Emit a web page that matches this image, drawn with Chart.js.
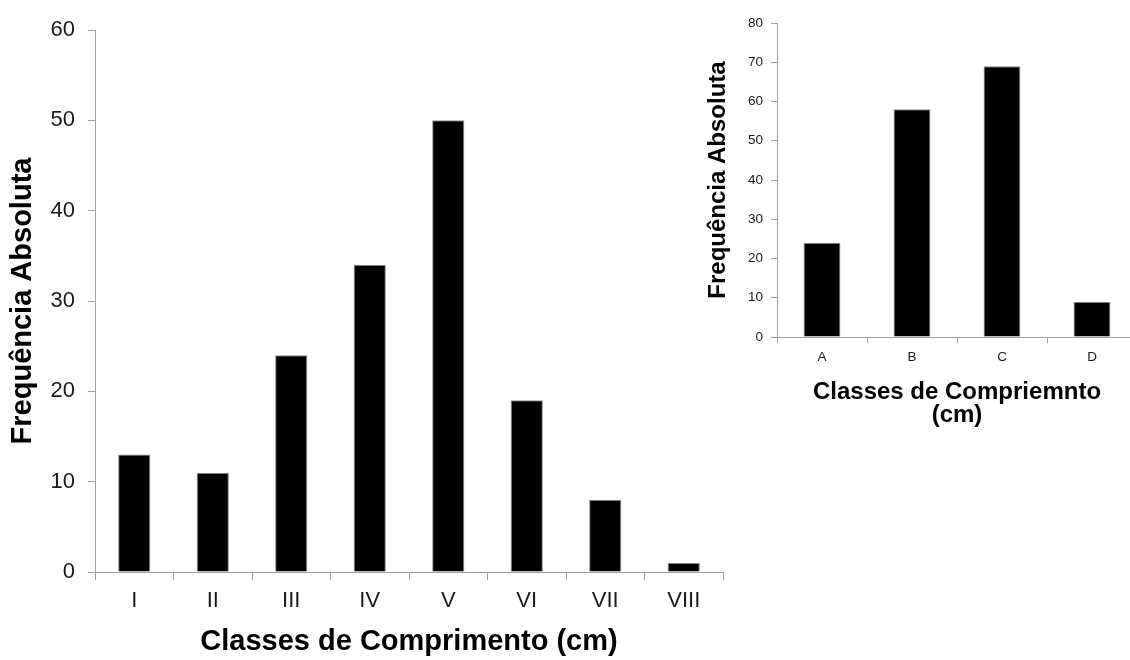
<!DOCTYPE html>
<html>
<head>
<meta charset="utf-8">
<script src="https://cdn.jsdelivr.net/npm/chart.js@4/dist/chart.umd.min.js"></script>
<style>
    html, body { margin: 0; padding: 0; background: #fff; overflow: hidden; }
    #page { position: relative; width: 1130px; height: 660px; overflow: hidden; }
    #leftChart { position: absolute; left: 0; top: 0; }
    #rightChart { position: absolute; left: 700px; top: 0; }
</style>
</head>
<body>
<div id="page">
    <canvas id="leftChart" width="750" height="660"></canvas>
    <canvas id="rightChart" width="460" height="440"></canvas>
</div>
<script>
// DATA

const leftClasses = ['I', 'II', 'III', 'IV', 'V', 'VI', 'VII', 'VIII'];
const leftFreq = [13, 11, 24, 34, 50, 19, 8, 1];

const rightClasses = ['A', 'B', 'C', 'D'];
const rightFreq = [24, 58, 69, 9];

const axisGray = '#a0a0a0';
const textColor = '#1a1a1a';
const fontFamily = "'Liberation Sans', Arial, sans-serif";

// BUILDS ONE BAR CHART

function makeBarChart(canvasId, labels, values, cfg) {
    const ctx = document.getElementById(canvasId).getContext('2d');

    return new Chart(ctx, {
        type: 'bar',
        data: {
            labels: labels,
            datasets: [{
                data: values,
                backgroundColor: '#000',
                borderColor: '#8a8a8a',
                borderWidth: 1,
                categoryPercentage: 1,
                barPercentage: 0.41
            }]
        },
        options: {
            responsive: false,
            animation: false,
            events: [],
            layout: { padding: { top: cfg.top, right: cfg.right, left: 0, bottom: 0 } },
            plugins: { legend: { display: false }, tooltip: { enabled: false } },
            scales: {
                x: {
                    grid: { offset: true, drawOnChartArea: false, tickLength: cfg.xTick, color: axisGray },
                    border: { color: axisGray, width: 1 },
                    ticks: { color: textColor, padding: cfg.xPad, font: { family: fontFamily, size: cfg.tickSize } },
                    title: {
                        display: true,
                        text: cfg.xTitle,
                        color: '#000',
                        padding: { top: 0, bottom: cfg.xTitlePad },
                        font: { family: fontFamily, size: cfg.titleSize, weight: 'bold', lineHeight: cfg.titleLine }
                    },
                    afterFit: (scale) => { scale.height = cfg.xHeight; }
                },
                y: {
                    min: 0,
                    max: cfg.yMax,
                    grid: { drawOnChartArea: false, tickLength: cfg.yTick, color: axisGray },
                    border: { color: axisGray, width: 1 },
                    ticks: { stepSize: 10, color: textColor, padding: cfg.yPad, font: { family: fontFamily, size: cfg.tickSize } },
                    title: {
                        display: true,
                        text: 'Frequência Absoluta',
                        color: '#000',
                        padding: { top: cfg.yTitlePad, bottom: 0 },
                        font: { family: fontFamily, size: cfg.titleSize, weight: 'bold', lineHeight: 1 }
                    },
                    afterFit: (scale) => { scale.width = cfg.yWidth; }
                }
            }
        }
    });
}

// LEFT CHART

makeBarChart('leftChart', leftClasses, leftFreq, {
    top: 30, right: 27,
    yMax: 60, yWidth: 95, xHeight: 88,
    xTick: 8, yTick: 7, xPad: 8, yPad: 13,
    tickSize: 22, titleSize: 29, titleLine: 1,
    xTitle: 'Classes de Comprimento (cm)',
    xTitlePad: 3.5, yTitlePad: 8.5
});

// RIGHT CHART (runs past the edge of the picture, as in the original)

makeBarChart('rightChart', rightClasses, rightFreq, {
    top: 23, right: 23,
    yMax: 80, yWidth: 77, xHeight: 103,
    xTick: 6, yTick: 6, xPad: 6, yPad: 8,
    tickSize: 13.5, titleSize: 24, titleLine: 0.96,
    xTitle: ['Classes de Compriemnto', '(cm)'],
    xTitlePad: 13.5, yTitlePad: 6
});
</script>
</body>
</html>
